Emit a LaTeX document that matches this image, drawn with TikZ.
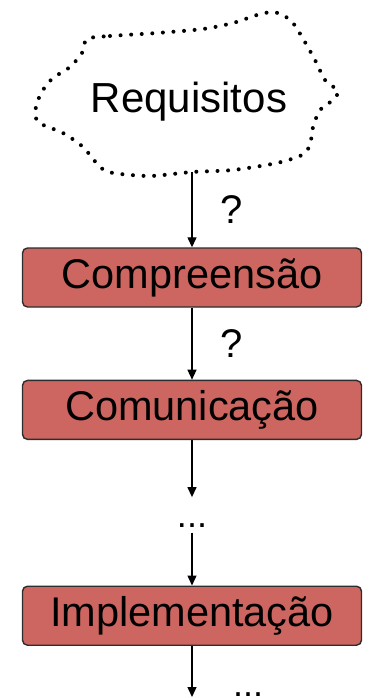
\documentclass[tikz,border=0pt]{standalone}
\usepackage{fontspec}
\setmainfont{Liberation Sans}
\usetikzlibrary{positioning,arrows.meta}
\definecolor{fasecor}{RGB}{205,102,96}
\definecolor{bordacor}{RGB}{45,45,45}
\tikzset{
	fase/.style={draw=bordacor, line width=1.4pt, fill=fasecor, rounded corners=5pt,
		minimum width=339pt, minimum height=59pt, inner sep=0pt,
		font=\fontsize{41.5}{48}\selectfont},
	seta/.style={-{Triangle[length=10pt,width=9pt]}, line width=1.3pt},
	pergunta/.style={anchor=west, inner sep=0pt, xshift=28pt,
		font=\fontsize{40}{48}\selectfont},
	reticencias/.style={inner sep=0pt, font=\fontsize{36}{40}\selectfont},
	nuvem/.style={line width=4pt, line cap=round, dash pattern=on 0pt off 10.6pt}
}
\newcommand{\fase}[4]{
	\node [fase, below=#2 of #1] (#3) {#4}
}

\begin{document}
\begin{tikzpicture}[x=1pt,y=-1pt]
	\useasboundingbox (0,0) rectangle (369,698);

	% nuvem dos requisitos
	\draw [nuvem] plot [smooth cycle, tension=0.45] coordinates {
		(87,39) (110,36) (157,33) (203,29) (233,23) (257,15) (272,12) (283,15)
		(293,23) (302,37) (315,60) (325,80) (338,91) (333,100) (320,110)
		(313,127) (310,145) (302,155) (277,163) (233,170) (192,172) (150,176)
		(113,173) (100,167) (83,147) (63,133) (38,122) (36,106) (43,90)
		(53,78) (70,67) (82,53)};
	\node [anchor=base, inner sep=0pt, font=\fontsize{42}{48}\selectfont] (req) at (189,113) {Requisitos};
	\coordinate (nuvembase) at (192,172);

	% fases
	\node [fase] (comp) at (192,277.5) {Compreensão};
	\fase {comp}{72pt}{comm}{Comunicação};
	\node [reticencias, below=57pt of comm, text height=30pt, text depth=5pt] (dots1) {...};
	\fase {dots1}{53pt}{impl}{Implementação};
	\coordinate (fim) at (192,697);
	\node [reticencias, anchor=base] (dots2) at (248,696) {...};

	% setas
	\draw [seta] (nuvembase) -- node [pergunta] (q1) {?} (comp);
	\draw [seta] (comp) -- node [pergunta] (q2) {?} (comm);
	\draw [seta] (comm) -- (dots1);
	\draw [seta] (dots1) -- (impl);
	\draw [seta] (impl) -- (fim);
\end{tikzpicture}
\end{document}
